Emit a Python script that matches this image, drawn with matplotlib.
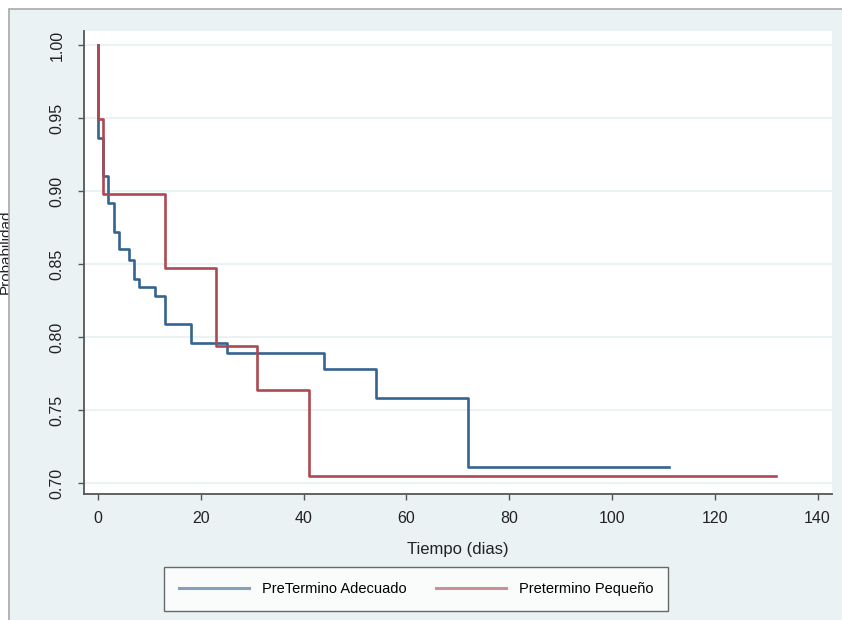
import matplotlib
matplotlib.use("Agg")
import matplotlib.pyplot as plt
from matplotlib.patches import Rectangle
from matplotlib.ticker import FormatStrFormatter

plt.rcParams['font.family'] = ['Liberation Sans', 'DejaVu Sans']
plt.rcParams['font.size'] = 10.5

# Kaplan-Meier curves (time in days, survival probability)
adecuado_t = [0, 0, 1, 2, 3, 4, 6, 7, 8, 11, 13, 18, 25, 44, 54, 72, 111]
adecuado_s = [1.0, 0.936, 0.910, 0.892, 0.872, 0.860, 0.853, 0.840, 0.834,
              0.828, 0.809, 0.796, 0.789, 0.778, 0.758, 0.711, 0.711]

pequeno_t = [0, 0, 1, 13, 23, 31, 41, 132]
pequeno_s = [1.0, 0.949, 0.898, 0.847, 0.794, 0.764, 0.705, 0.705]

series_labels = ["PreTermino Adecuado", "Pretermino Pequeño"]
x_ticks = [0, 20, 40, 60, 80, 100, 120, 140]
y_ticks = [0.70, 0.75, 0.80, 0.85, 0.90, 0.95, 1.00]

W, H = 842, 620
fig = plt.figure(figsize=(W / 100, H / 100), dpi=100, facecolor="white")

# light graph region; the y-label sits underneath it and is mostly hidden
panel = Rectangle((9 / W, -0.05), 1.1, 1.05 - 9 / H, transform=fig.transFigure,
                  facecolor="#eaf2f3", edgecolor="#a8a8a8", linewidth=1.2, zorder=-1)
fig.patches.append(panel)
fig.text(-1 / W, 1 - 252 / H, "Probabilidad", rotation=90, ha="left", va="center",
         fontsize=11, color="#222222", zorder=-2)

ax = fig.add_axes([84 / W, 1 - 494 / H, (832 - 84) / W, (494 - 31) / H])
ax.set_facecolor("white")

ax.step(adecuado_t, adecuado_s, where="post", color="#34648f", lw=1.9, label=series_labels[0])
ax.step(pequeno_t, pequeno_s, where="post", color="#ad4953", lw=1.9, label=series_labels[1])

ax.set_xlim(-2.74, 142.8)
ax.set_ylim(0.6925, 1.0096)
ax.set_xticks(x_ticks)
ax.set_yticks(y_ticks)
ax.yaxis.set_major_formatter(FormatStrFormatter('%.2f'))

ax.grid(axis="y", color="#eaf2f3", linewidth=1.5)
ax.set_axisbelow(True)

for side in ["top", "right"]:
    ax.spines[side].set_visible(False)
for side in ["left", "bottom"]:
    ax.spines[side].set_color("#555555")
    ax.spines[side].set_linewidth(1.3)

ax.tick_params(axis="both", direction="out", length=4, width=1, color="#555555",
               labelcolor="#222222", labelsize=11.5)
ax.tick_params(axis="y", labelrotation=90, pad=10)
ax.tick_params(axis="x", pad=8)
for lab in ax.get_yticklabels():
    lab.set_va("center")

ax.set_xlabel("Tiempo (dias)", fontsize=12, color="#222222", labelpad=12)

leg = fig.legend(loc="center", bbox_to_anchor=(416 / W, 1 - 589 / H), ncol=2,
                 frameon=True, fancybox=False, handlelength=4.8, handletextpad=0.9,
                 columnspacing=2.0, borderpad=1.0, fontsize=10.5)
leg.get_frame().set_edgecolor("#444444")
leg.get_frame().set_linewidth(1.0)
leg.get_frame().set_facecolor("white")
for h in leg.get_lines():
    h.set_alpha(0.6)
    h.set_linewidth(2.2)

fig.savefig("out.png", dpi=100, facecolor=fig.get_facecolor())
